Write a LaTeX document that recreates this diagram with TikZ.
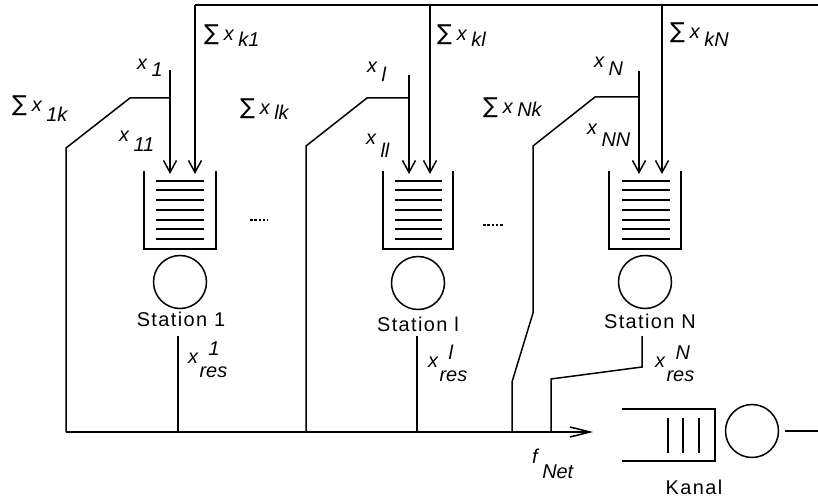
\documentclass[tikz,border=0pt]{standalone}
\usepackage{fontspec}
\setmainfont{Liberation Sans}
\newfontfamily\symfont{DejaVu Sans}
\usetikzlibrary{arrows.meta}
\newcommand\xl[2][6bp]{\textit{x}\hspace{4bp}\raisebox{-#1}{\textit{#2}}}
\newcommand\sx[2][6bp]{{\symfont\fontsize{22}{24}\selectfont\char"2211}\hspace{5bp}\xl[#1]{#2}}
\newcommand\xres[1]{\textit{x}\hspace{1bp}\raisebox{-14bp}{\rlap{\hspace{9bp}\raisebox{22bp}{\textit{#1}}}\textit{res}}}
\begin{document}
\begin{tikzpicture}[x=1bp,y=-1bp, line width=1.5bp,
  every node/.style={inner sep=0pt, outer sep=0pt},
  lab/.style={font=\fontsize{20}{22}\selectfont, anchor=base west},
  stat/.style={font=\fontsize{20}{22}\selectfont\addfontfeature{LetterSpace=7}, anchor=base},
  srv/.style={draw, circle, minimum size=53bp},
  inarr/.style={-{Straight Barb[length=12bp,width=13bp]}},
  outarr/.style={-{Straight Barb[length=20bp,width=10bp]}},
  qline/.style={line width=1.8bp},
  dots/.style={line width=2.4bp, dash pattern=on 2.5bp off 1.8bp}]
\fill[white] (0,0) rectangle (818,498);
\useasboundingbox (0,0) rectangle (818,498);

% top bus
\coordinate (busL) at (195,5);
\coordinate (busR) at (818,5);
\coordinate (busl) at (430,5);
\coordinate (busN) at (662,5);
\draw (busL) -- (busR);

% ---------- Station 1
\coordinate (q1tl) at (144,171); \coordinate (q1bl) at (144,249);
\coordinate (q1br) at (216,249); \coordinate (q1tr) at (216,171);
\draw (q1tl) -- (q1bl) -- (q1br) -- (q1tr);
\foreach \y in {181,190,200,210,220,229,239} \draw[qline] (156,\y) -- (204,\y);
\node[srv] (c1) at (180,282) {};
\node[stat] (st1) at (181,327) {Station 1};
\coordinate (x1top) at (170,70); \coordinate (x1j) at (170,98); \coordinate (x1in) at (170,174);
\coordinate (s1in) at (195,174);
\draw[inarr] (x1top) -- (x1in);
\draw[inarr] (busL) -- (s1in);
\coordinate (d1a) at (130,98); \coordinate (d1b) at (66,148); \coordinate (d1c) at (66,432);
\draw (x1j) -- (d1a) -- (d1b) -- (d1c);
\coordinate (r1a) at (178,336); \coordinate (r1b) at (178,432);
\draw (r1a) -- (r1b);

% ---------- Station l
\coordinate (qltl) at (383,171); \coordinate (qlbl) at (383,249);
\coordinate (qlbr) at (453,249); \coordinate (qltr) at (453,171);
\draw (qltl) -- (qlbl) -- (qlbr) -- (qltr);
\foreach \y in {181,190,200,210,220,229,239} \draw[qline] (395,\y) -- (442,\y);
\node[srv] (cl) at (418,283) {};
\node[stat] (stl) at (418,331) {Station l};
\coordinate (xltop) at (409,75); \coordinate (xlj) at (409,98); \coordinate (xlin) at (409,174);
\coordinate (slin) at (430,174);
\draw[inarr] (xltop) -- (xlin);
\draw[inarr] (busl) -- (slin);
\coordinate (dla) at (367,98); \coordinate (dlb) at (306,146); \coordinate (dlc) at (306,432);
\draw (xlj) -- (dla) -- (dlb) -- (dlc);
\coordinate (rla) at (417,336); \coordinate (rlb) at (417,432);
\draw (rla) -- (rlb);

% ---------- Station N
\coordinate (qNtl) at (609,171); \coordinate (qNbl) at (609,249);
\coordinate (qNbr) at (681,249); \coordinate (qNtr) at (681,171);
\draw (qNtl) -- (qNbl) -- (qNbr) -- (qNtr);
\foreach \y in {181,190,200,210,220,229,239} \draw[qline] (622,\y) -- (670,\y);
\node[srv] (cN) at (645,282) {};
\node[stat] (stN) at (650,328) {Station N};
\coordinate (xNtop) at (639,71); \coordinate (xNj) at (639,97); \coordinate (xNin) at (639,174);
\coordinate (sNin) at (662,174);
\draw[inarr] (xNtop) -- (xNin);
\draw[inarr] (busN) -- (sNin);
\coordinate (dNa) at (595,97); \coordinate (dNb) at (533,146); \coordinate (dNc) at (533,313);
\coordinate (dNd) at (512,382); \coordinate (dNe) at (512,432);
\draw (xNj) -- (dNa) -- (dNb) -- (dNc) -- (dNd) -- (dNe);
\coordinate (rNa) at (642,336); \coordinate (rNb) at (642,367);
\coordinate (rNc) at (551,379); \coordinate (rNd) at (551,432);
\draw (rNa) -- (rNb) -- (rNc) -- (rNd);

% ---------- bottom line to channel
\coordinate (fend) at (593,432);
\draw[outarr] (d1c) -- (fend);

% ---------- Kanal
\coordinate (kta) at (622,409); \coordinate (ktb) at (715,409);
\coordinate (kbb) at (715,461); \coordinate (kba) at (622,461);
\draw (kta) -- (ktb) -- (kbb) -- (kba);
\foreach \x in {668,683,699} \draw (\x,418) -- (\x,453);
\node[srv, minimum size=53bp] (ck) at (752,431) {};
\coordinate (kout) at (818,431);
\draw (ck.east) ++(6,0) coordinate (kstart) (kstart) -- (kout);
\node[stat] (kan) at (694,494) {Kanal};

% dots
\coordinate (da1) at (250,220); \coordinate (da2) at (268,220);
\coordinate (db1) at (483,225); \coordinate (db2) at (503,225);
\draw[dots] (da1) -- (da2);
\draw[dots] (db1) -- (db2);

% ---------- labels
\node[lab] (lk1) at (204,41) {\sx{k1}};
\node[lab] (l1) at (137,70) {\xl[7bp]{1}};
\node[lab] (l1k) at (12,112) {\sx[10bp]{1k}};
\node[lab] (l11) at (119,142) {\xl[10bp]{11}};
\node[lab] (lkl) at (437,41) {\sx{kl}};
\node[lab] (ll) at (367,73) {\xl[9bp]{l}};
\node[lab] (llk) at (240,115) {\sx[5bp]{lk}};
\node[lab] (lll) at (366,145) {\xl[13bp]{ll}};
\node[lab] (lNk) at (483,114) {\sx[3bp]{Nk}};
\node[lab] (lN) at (594,68) {\xl[8bp]{N}};
\node[lab] (lNN) at (587,135) {\xl[12bp]{NN}};
\node[lab] (lkN) at (670,39) {\sx[8bp]{kN}};

\node[lab] (res1) at (188,363) {\xres{1}};
\node[lab] (resl) at (428,367) {\xres{l}};
\node[lab] (resN) at (655,367) {\xres{N}};
\node[lab] (fn) at (532,463) {\textit{f}\hspace{3bp}\raisebox{-15bp}{\textit{Net}}};
\end{tikzpicture}
\end{document}
